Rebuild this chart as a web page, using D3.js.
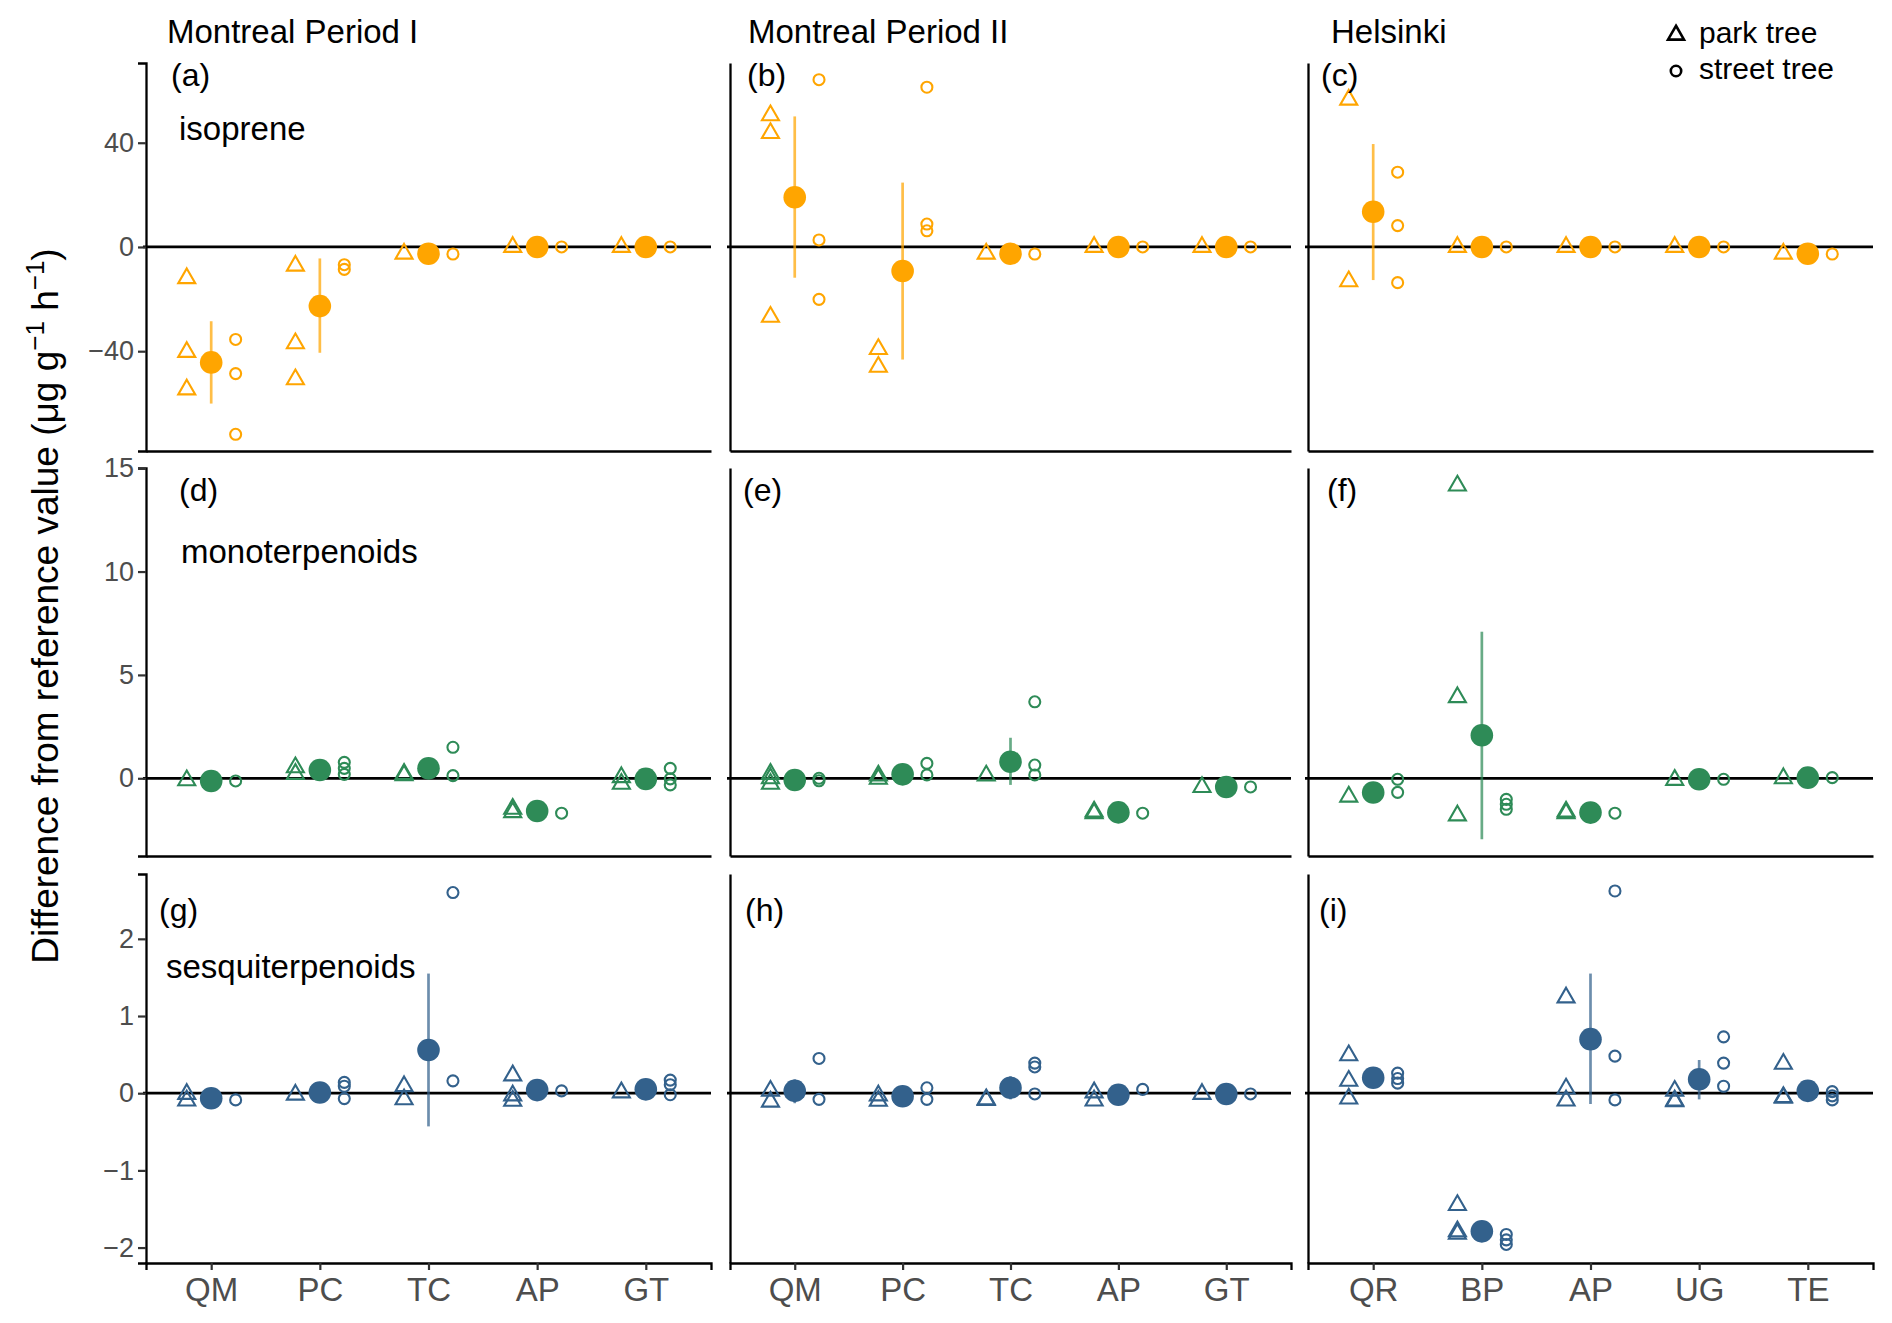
<!DOCTYPE html>
<meta charset="UTF-8">
<style>
body { margin: 0; background: #fff; }
svg text { font-family: "Liberation Sans", Arial, sans-serif; }
</style>
<body>
<script src="https://cdn.jsdelivr.net/npm/d3@7"></script>
<script>

// categories (tree species)
var cat_montreal = ["QM", "PC", "TC", "AP", "GT"];
var cat_helsinki = ["QR", "BP", "AP", "UG", "TE"];

var columnTitles = ["Montreal Period I", "Montreal Period II", "Helsinki"];
var compounds = ["isoprene", "monoterpenoids", "sesquiterpenoids"];
var panelLetters = ["a", "b", "c", "d", "e", "f", "g", "h", "i"];

var yTicks = [[-40, 0, 40], [0, 5, 10, 15], [-2, -1, 0, 1, 2]];

// --- isoprene ---
var park_a = [[-12.0, -40.3, -54.7], [-7.2, -37.0, -50.8], [-2.6], [0], [0]];
var street_a = [[-35.5, -48.6, -71.9], [-6.8, -8.6], [-2.7], [0], [0]];
var mean_a = [-44.3, -22.7, -2.6, 0, 0];
var err_a = [[-60.1, -28.5], [-40.6, -4.4], null, null, null];

var park_b = [[50.5, 43.7, -26.8], [-39.2, -46.0], [-2.6], [0], [0]];
var street_b = [[64.2, 2.7, -20.1], [61.3, 8.8, 6.2], [-2.7], [0], [0]];
var mean_b = [19.1, -9.2, -2.6, 0, 0];
var err_b = [[-11.8, 50.1], [-43.2, 24.7], null, null, null];

var park_c = [[56.5, -13.2], [0], [0], [0], [-2.6]];
var street_c = [[28.7, 8.2, -13.7], [0], [0], [0], [-2.7]];
var mean_c = [13.5, 0, 0, 0, -2.6];
var err_c = [[-12.7, 39.5], null, null, null, null];

// --- monoterpenoids ---
var park_d = [[-0.1], [0.53, 0.21], [0.21, 0.15], [-1.48, -1.64], [0.05, -0.27]];
var street_d = [[-0.13], [0.77, 0.48, 0.19], [1.5, 0.13], [-1.69], [0.48, -0.03, -0.32]];
var mean_d = [-0.13, 0.4, 0.48, -1.58, -0.03];
var err_d = [null, null, null, null, null];

var park_e = [[0.21, -0.27, 0.0], [0.13, -0.03], [0.13], [-1.61, -1.69], [-0.43]];
var street_e = [[0, -0.12], [0.72, 0.16], [3.7, 0.64, 0.16], [-1.69], [-0.42]];
var mean_e = [-0.08, 0.19, 0.8, -1.65, -0.42];
var err_e = [null, null, [-0.32, 1.96], null, null];

var park_f = [[-0.89], [14.16, 3.92, -1.8], [-1.61, -1.69], [-0.08], [0.0]];
var street_f = [[-0.05, -0.68], [-1.02, -1.26, -1.5], [-1.69], [-0.05], [0.03]];
var mean_f = [-0.69, 2.08, -1.66, -0.05, 0.03];
var err_f = [null, [-2.95, 7.09], null, null, null];

// --- sesquiterpenoids ---
var park_g = [[-0.01, -0.095], [-0.02], [0.09, -0.08], [0.23, -0.03, -0.1], [0.01]];
var street_g = [[-0.087], [0.14, 0.09, -0.07], [2.6, 0.16], [0.03], [0.17, 0.11, -0.02]];
var mean_g = [-0.065, 0.01, 0.56, 0.04, 0.05];
var err_g = [null, null, [-0.43, 1.55], null, null];

var park_h = [[0.03, -0.11], [-0.03, -0.1], [-0.08, -0.09], [0.01, -0.095], [-0.01]];
var street_h = [[0.45, -0.08], [0.07, -0.08], [0.39, 0.34, -0.01], [0.05], [-0.01]];
var mean_h = [0.03, -0.04, 0.07, -0.02, -0.01];
var err_h = [[-0.13, 0.18], null, [-0.08, 0.22], null, null];

var park_i = [[0.49, 0.16, -0.07], [-1.45, -1.79, -1.82], [1.24, 0.06, -0.095], [0.03, -0.095, -0.105], [0.38, -0.05, -0.06]];
var street_i = [[0.26, 0.19, 0.13], [-1.83, -1.9, -1.96], [2.62, 0.48, -0.087], [0.73, 0.39, 0.09], [0.02, -0.035, -0.087]];
var mean_i = [0.2, -1.79, 0.7, 0.18, 0.03];
var err_i = [null, null, [-0.14, 1.55], [-0.08, 0.43], null];

// layout
var width = 1892, height = 1323;
var colX = [[146, 711], [730, 1291], [1308, 1873]];
var rowY = [[63, 451], [468, 856], [874, 1263]];
var yDomain = [[-78.3, 70.6], [-3.76, 15.01], [-2.2, 2.84]];
var rowColor = ["#FFA500", "#2E8B57", "#33618C"];
var letterPos = [[171, 86], [747, 86], [1321, 86],
                 [179, 501], [743, 501], [1327, 501],
                 [159, 921], [745, 921], [1319, 921]];
var compoundPos = [[179, 140], [181, 563], [166, 978]];

var panels = [
  {park: park_a, street: street_a, mean: mean_a, err: err_a},
  {park: park_b, street: street_b, mean: mean_b, err: err_b},
  {park: park_c, street: street_c, mean: mean_c, err: err_c},
  {park: park_d, street: street_d, mean: mean_d, err: err_d},
  {park: park_e, street: street_e, mean: mean_e, err: err_e},
  {park: park_f, street: street_f, mean: mean_f, err: err_f},
  {park: park_g, street: street_g, mean: mean_g, err: err_g},
  {park: park_h, street: street_h, mean: mean_h, err: err_h},
  {park: park_i, street: street_i, mean: mean_i, err: err_i}
];

var svg = d3.select("body").append("svg")
    .attr("width", width)
    .attr("height", height);

function triangle(s) {
  var h = s * Math.sqrt(3) / 2;
  return "M0," + (-2 * h / 3) + "L" + (s / 2) + "," + (h / 3) + "L" + (-s / 2) + "," + (h / 3) + "Z";
}

panels.forEach(function(p, k) {
  var r = Math.floor(k / 3), c = k % 3;
  var cats = c == 2 ? cat_helsinki : cat_montreal;
  var col = rowColor[r];

  var x = d3.scalePoint().domain(cats).range(colX[c]).padding(0.6);
  var y = d3.scaleLinear().domain(yDomain[r]).range([rowY[r][1], rowY[r][0]]);
  var off = x.step() * 0.225;

  var g = svg.append("g");

  // zero reference line
  g.append("line")
      .attr("x1", colX[c][0] - 3).attr("x2", colX[c][1])
      .attr("y1", y(0)).attr("y2", y(0))
      .attr("stroke", "#000").attr("stroke-width", 2.8);

  // axes
  var yAxis = d3.axisLeft(y).tickValues(yTicks[r]).tickSizeOuter(0)
      .tickFormat(d3.format("~g"));
  if (c == 0) yAxis.tickSize(8).tickPadding(4);
  else yAxis.tickSize(0).tickFormat("");
  var ya = g.append("g")
      .attr("transform", "translate(" + colX[c][0] + ",0)")
      .call(yAxis);

  var xAxis = d3.axisBottom(x).tickSizeOuter(0);
  if (r == 2) xAxis.tickSize(7).tickPadding(8);
  else xAxis.tickSize(0).tickFormat("");
  var xa = g.append("g")
      .attr("transform", "translate(0," + rowY[r][1] + ")")
      .call(xAxis);

  [ya, xa].forEach(function(a) {
    a.select(".domain").attr("stroke", "#000").attr("stroke-width", 2.3);
    a.selectAll(".tick line").attr("stroke", "#333").attr("stroke-width", 2.2);
    a.selectAll(".tick text").attr("fill", "#4D4D4D")
        .style("font-family", "'Liberation Sans', Arial, sans-serif");
  });
  ya.selectAll(".tick text").style("font-size", "27px");
  xa.selectAll(".tick text").style("font-size", "33px");

  // error bars
  g.selectAll(".err")
    .data(p.err.map(function(e, i) { return {cat: cats[i], e: e}; })
               .filter(function(d) { return d.e; }))
    .enter().append("line")
      .attr("x1", function(d) { return x(d.cat); })
      .attr("x2", function(d) { return x(d.cat); })
      .attr("y1", function(d) { return y(d.e[0]); })
      .attr("y2", function(d) { return y(d.e[1]); })
      .attr("stroke", col).attr("stroke-opacity", 0.72)
      .attr("stroke-width", 2.7);

  // park trees (triangles)
  var parkPts = [];
  p.park.forEach(function(vals, i) {
    vals.forEach(function(v) { parkPts.push({cat: cats[i], v: v}); });
  });
  g.selectAll(".park")
    .data(parkPts)
    .enter().append("path")
      .attr("d", triangle(17))
      .attr("transform", function(d) {
        return "translate(" + (x(d.cat) - off) + "," + y(d.v) + ")";
      })
      .attr("fill", "none").attr("stroke", col).attr("stroke-width", 2.1);

  // street trees (circles)
  var streetPts = [];
  p.street.forEach(function(vals, i) {
    vals.forEach(function(v) { streetPts.push({cat: cats[i], v: v}); });
  });
  g.selectAll(".street")
    .data(streetPts)
    .enter().append("circle")
      .attr("cx", function(d) { return x(d.cat) + off; })
      .attr("cy", function(d) { return y(d.v); })
      .attr("r", 5.5)
      .attr("fill", "none").attr("stroke", col).attr("stroke-width", 2.1);

  // means
  g.selectAll(".mean")
    .data(p.mean)
    .enter().append("circle")
      .attr("cx", function(d, i) { return x(cats[i]); })
      .attr("cy", function(d) { return y(d); })
      .attr("r", 11.3)
      .attr("fill", col);

  // panel letter
  svg.append("text")
      .attr("x", letterPos[k][0]).attr("y", letterPos[k][1])
      .style("font-size", "32px")
      .text("(" + panelLetters[k] + ")");
});

// column titles
columnTitles.forEach(function(t, c) {
  svg.append("text")
      .attr("x", [167, 748, 1331][c]).attr("y", 43)
      .style("font-size", "33px")
      .text(t);
});

// compound labels
compounds.forEach(function(t, r) {
  svg.append("text")
      .attr("x", compoundPos[r][0]).attr("y", compoundPos[r][1])
      .style("font-size", "33px")
      .text(t);
});

// legend
var legend = svg.append("g");
legend.append("path")
    .attr("d", triangle(16))
    .attr("transform", "translate(1676,35)")
    .attr("fill", "none").attr("stroke", "#000").attr("stroke-width", 2.6);
legend.append("circle")
    .attr("cx", 1676).attr("cy", 71).attr("r", 5.2)
    .attr("fill", "none").attr("stroke", "#000").attr("stroke-width", 2.6);
legend.append("text").attr("x", 1699).attr("y", 43)
    .style("font-size", "30px").text("park tree");
legend.append("text").attr("x", 1699).attr("y", 79)
    .style("font-size", "30px").text("street tree");

// y axis title
var yt = svg.append("text")
    .attr("transform", "translate(58,606) rotate(-90)")
    .attr("text-anchor", "middle")
    .style("font-size", "37px");
yt.append("tspan").text("Difference from reference value (\u03bcg g");
yt.append("tspan").attr("dy", -14).style("font-size", "26px").text("\u22121");
yt.append("tspan").attr("dy", 14).text(" h");
yt.append("tspan").attr("dy", -14).style("font-size", "26px").text("\u22121");
yt.append("tspan").attr("dy", 14).text(")");

</script>
</body>
